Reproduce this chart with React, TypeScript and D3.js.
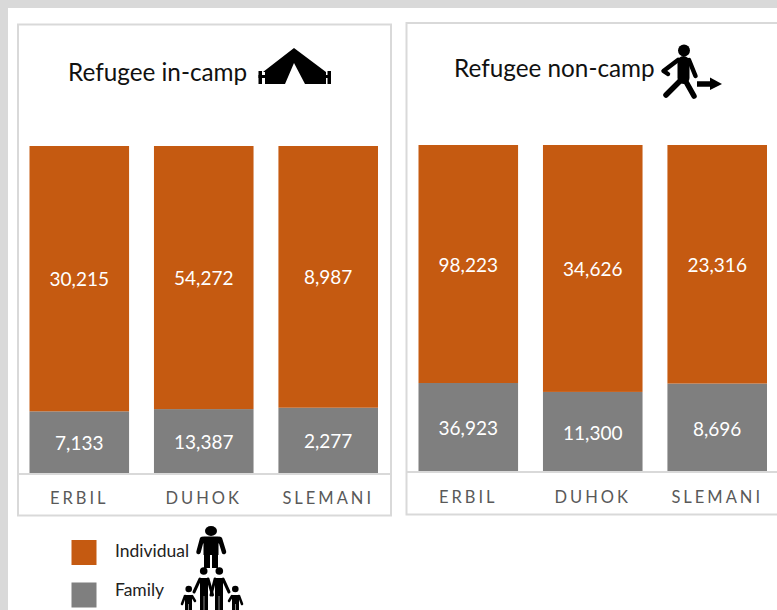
import React from "react";
import * as d3 from "d3";

const W = 777;
const H = 610;
const categories = ["ERBIL", "DUHOK", "SLEMANI"];
const inCampIndividual = [30215, 54272, 8987];
const inCampFamily = [7133, 13387, 2277];
const nonCampIndividual = [98223, 34626, 23316];
const nonCampFamily = [36923, 11300, 8696];
const ORANGE = "#C55A11";
const GREY = "#7F7F7F";
const BORDER = "#D9D9D9";
const FONT = "Lato, Carlito, 'Open Sans', sans-serif";
const fmt = d3.format(",");

function Panel({ individual, family, box, x0, x1, top, bottom, axisY, labelY, title, titleX, titleY }: any) {
  const x = d3.scaleBand<string>().domain(categories).range([x0, x1]).paddingInner(0.2);
  const y = d3.scaleLinear().domain([0, 1]).range([bottom, top]);
  const stack = d3.stack<any>().keys(["family", "individual"]).offset(d3.stackOffsetExpand);
  const rows = categories.map((c, i) => ({ c, family: family[i], individual: individual[i] }));
  const series = stack(rows);
  return (
    <g>
      <rect x={box[0]} y={box[1]} width={box[2]} height={box[3]} fill="#fff" stroke={BORDER} strokeWidth={2} />
      <text x={titleX} y={titleY} fontFamily={FONT} fontSize={24.3} fill="#111">{title}</text>
      {series.map((s) =>
        s.map((d, i) => {
          const isFam = s.key === "family";
          const v = isFam ? family[i] : individual[i];
          const yt = y(d[1]);
          const yb = y(d[0]);
          return (
            <g key={s.key + i}>
              <rect x={x(categories[i])} y={yt} width={x.bandwidth()} height={yb - yt} fill={isFam ? GREY : ORANGE} />
              <text x={x(categories[i])! + x.bandwidth() / 2} y={(yt + yb) / 2 + 1} dy="0.35em" textAnchor="middle"
                fontFamily={FONT} fontSize={19} fill="#fff">{fmt(v)}</text>
            </g>
          );
        })
      )}
      <line x1={box[0]} x2={box[0] + box[2]} y1={axisY} y2={axisY} stroke={BORDER} strokeWidth={2} />
      {categories.map((c) => (
        <text key={c} x={x(c)! + x.bandwidth() / 2} y={labelY} textAnchor="middle" fontFamily={FONT} fontSize={16.5}
          letterSpacing={3} fill="#595959">{c}</text>
      ))}
    </g>
  );
}

function Tent() {
  return (
    <g fill="#000">
      <path d="M294,48 L326,72 L326,84 L305,84 L294,63 L285,84 L265,84 L265,72 L263,72 Z" />
      <rect x={258.5} y={71} width={3.5} height={13} />
      <rect x={327.5} y={71} width={3.5} height={13} />
      <rect x={258.5} y={75} width={8} height={3} />
      <rect x={324} y={75} width={6} height={3} />
    </g>
  );
}

function Walker() {
  return (
    <g stroke="#000" fill="none" strokeLinecap="round" strokeLinejoin="round">
      <circle cx={684} cy={50.5} r={6} fill="#000" stroke="none" />
      <path d="M678,60 L663.5,71 L668,74" strokeWidth={4.5} />
      <path d="M689,60 L695.5,76" strokeWidth={4.5} />
      <path d="M683.5,62 L683.5,78" strokeWidth={12} />
      <path d="M681,80 L666,95" strokeWidth={5.5} />
      <path d="M685,80 L694,96" strokeWidth={5.5} />
      <path d="M697,84 L710,84" strokeWidth={5.5} strokeLinecap="butt" />
      <path d="M710,77.5 L722,84 L710,90 Z" fill="#000" stroke="none" />
    </g>
  );
}

function Person() {
  return (
    <g stroke="#000" fill="none" strokeLinecap="round" strokeLinejoin="round">
      <ellipse cx={211} cy={531} rx={6} ry={5} fill="#000" stroke="none" />
      <path d="M204,540 L218,540" strokeWidth={7} />
      <path d="M202,539 L198.5,552" strokeWidth={4.5} />
      <path d="M220,539 L224,552" strokeWidth={4.5} />
      <path d="M211,540 L211,555" strokeWidth={15} strokeLinecap="butt" />
      <path d="M207,553 L207,568" strokeWidth={6} strokeLinecap="butt" />
      <path d="M215,553 L215,568" strokeWidth={6} strokeLinecap="butt" />
    </g>
  );
}

function Family() {
  return (
    <g stroke="#000" fill="none" strokeLinecap="round" strokeLinejoin="round">
      <circle cx={203.7} cy={571} r={3.8} fill="#000" stroke="none" />
      <circle cx={219.3} cy={571} r={3.8} fill="#000" stroke="none" />
      <circle cx={188.7} cy={589} r={3.3} fill="#000" stroke="none" />
      <circle cx={235.3} cy={589} r={3.3} fill="#000" stroke="none" />
      <path d="M204,578 L204,612" strokeWidth={8} strokeLinecap="butt" />
      <path d="M219,578 L219,612" strokeWidth={8} strokeLinecap="butt" />
      <path d="M200,579 L194,592" strokeWidth={3} />
      <path d="M208,579 L212.5,595" strokeWidth={3} />
      <path d="M223,579 L229,592" strokeWidth={3} />
      <path d="M215,579 L211,595" strokeWidth={3} />
      <path d="M188.5,595 L188.5,612" strokeWidth={7} strokeLinecap="butt" />
      <path d="M235.5,595 L235.5,612" strokeWidth={7} strokeLinecap="butt" />
      <path d="M185,596 L182,604" strokeWidth={2.5} />
      <path d="M192,596 L195,601" strokeWidth={2.5} />
      <path d="M239,596 L242,604" strokeWidth={2.5} />
      <path d="M232,596 L229,601" strokeWidth={2.5} />
      <path d="M204,596 L204,612 M219,596 L219,612 M188.5,604 L188.5,612 M235.5,604 L235.5,612" stroke="#888" strokeWidth={1} strokeLinecap="butt" />
    </g>
  );
}

export default function App() {
  return (
    <svg width={W} height={H} viewBox={`0 0 ${W} ${H}`} style={{ position: "fixed", left: 0, top: 0, display: "block" }}>
      <rect width={W} height={H} fill="#D9D9D9" />
      <rect x={8} y={8} width={W - 8} height={H - 8} fill="#fff" />
      <Panel individual={inCampIndividual} family={inCampFamily} box={[18, 24.5, 373, 491]} x0={29.5} x1={378}
        top={146} bottom={474} axisY={474} labelY={503.5} title="Refugee in-camp" titleX={68} titleY={81} />
      <Panel individual={nonCampIndividual} family={nonCampFamily} box={[406.5, 23, 400, 491.5]} x0={418.5} x1={767}
        top={145} bottom={472.5} axisY={472} labelY={502.5} title="Refugee non-camp" titleX={454} titleY={77} />
      <Tent />
      <Walker />
      <rect x={71.5} y={540} width={25} height={25} fill={ORANGE} />
      <rect x={71.5} y={582.5} width={25} height={25} fill={GREY} />
      <text x={115} y={557} fontFamily={FONT} fontSize={17.5} fill="#222">Individual</text>
      <text x={115} y={596} fontFamily={FONT} fontSize={17.5} fill="#222">Family</text>
      <Person />
      <Family />
    </svg>
  );
}
